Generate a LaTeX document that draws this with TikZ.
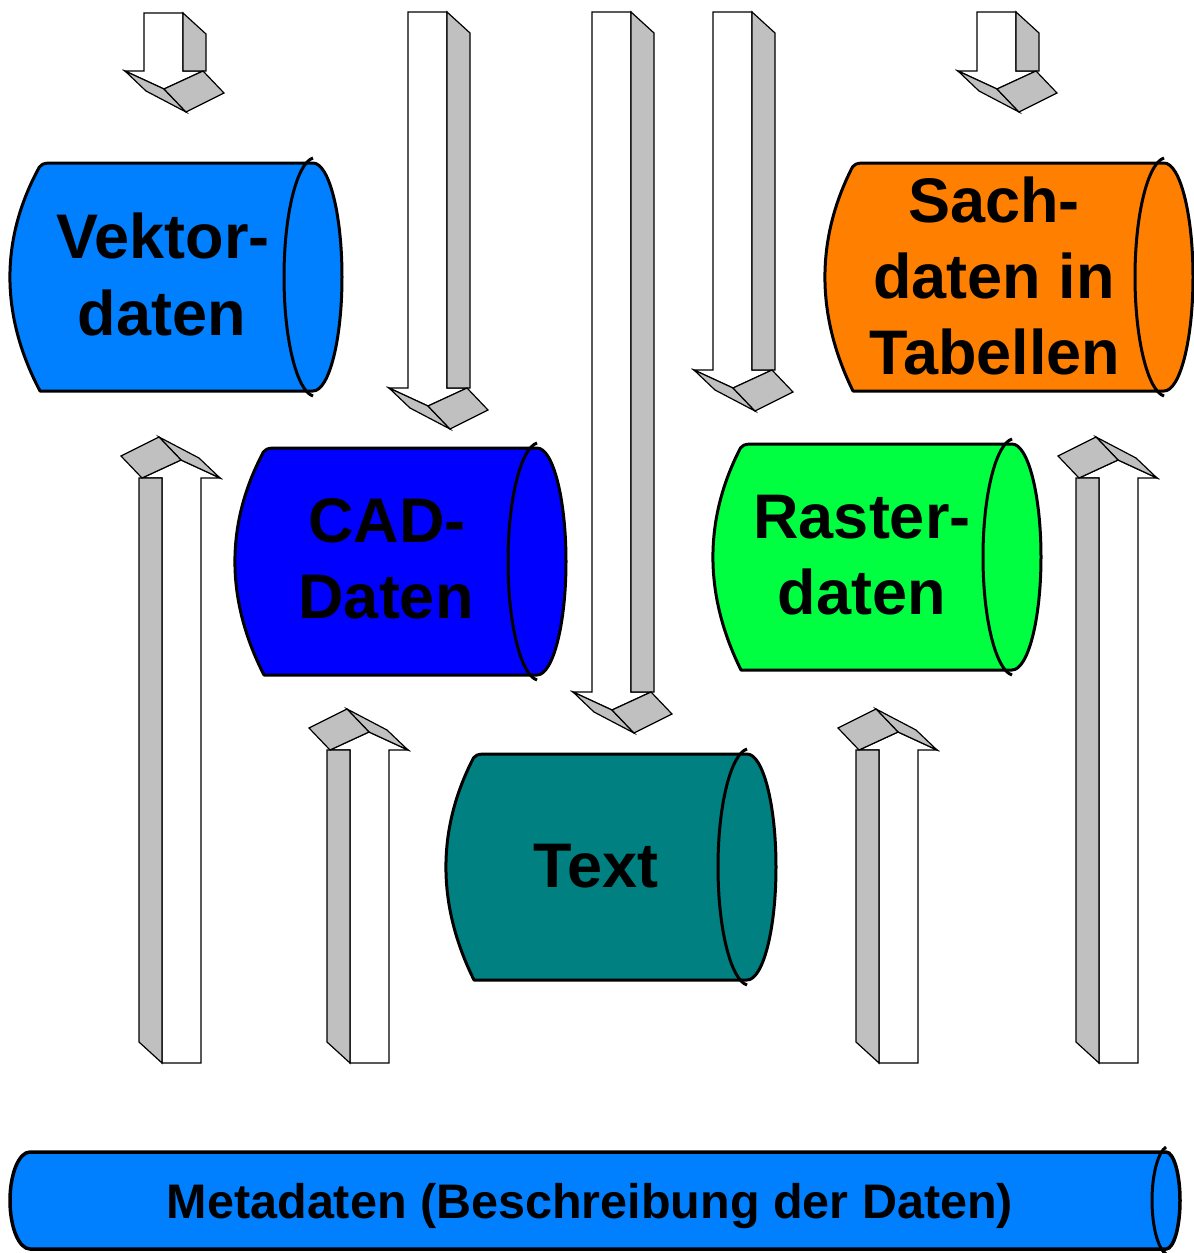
\documentclass[tikz,border=0pt]{standalone}
\usepackage{fontspec}
\setmainfont{Liberation Sans}
\definecolor{vekblue}{RGB}{0,128,255}
\definecolor{cadblue}{RGB}{0,0,255}
\definecolor{rastergreen}{RGB}{0,255,64}
\definecolor{sachorange}{RGB}{255,128,0}
\definecolor{textteal}{RGB}{0,128,128}
\definecolor{arrowgray}{RGB}{192,192,192}
\tikzset{
  arrowline/.style={draw=black, line width=1.2pt, line join=miter},
  arrowfront/.style={arrowline, fill=white},
  arrowface/.style={arrowline, fill=arrowgray},
  cylbody/.style={draw=black, line width=3pt, line join=round},
  cylinner/.style={draw=black, line width=3pt},
  lbl/.style={inner sep=0pt, font=\fontsize{63}{77}\selectfont\bfseries, anchor=base},
  metalbl/.style={inner sep=0pt, font=\fontsize{48.5}{58}\selectfont\bfseries, anchor=base},
}
% 3D block arrow: #1,#2 anchor; #3 shaft length; #4 rotation (0 = down, 180 = up)
\newcommand\threedarrow[4]{%
  \begin{scope}[shift={(#1,#2)}, rotate=#4]
    \draw[arrowfront] (0,-#3) -- (39,-#3) -- (39,0) -- (59,0) -- (20,18) -- (-19,0) -- (0,0) -- cycle;
    \draw[arrowface] (39,-#3) -- (62,-#3+21) -- (62,0) -- (39,0) -- cycle;
    \draw[arrowface] (-19,0) -- (20,18) -- (42,41) -- (2,20) -- cycle;
    \draw[arrowface] (20,18) -- (59,0) -- (80,22) -- (42,41) -- cycle;
  \end{scope}}
% inner half ellipse of the right end
\newcommand\cylrightinner[4]{% #1 xr #2 yt #3 yb #4 rx
  \draw[cylinner]
    (#1,#2-5) .. controls (#1-0.5523*#4,#2) and (#1-#4,\cym-0.5523*\cry) .. (#1-#4,\cym)
    .. controls (#1-#4,\cym+0.5523*\cry) and (#1-0.5523*#4,#3) .. (#1,#3+5);}
% cylinder with a parabolic left end: #1 xl, #2 xr, #3 yt, #4 yb, #5 left bulge, #6 right radius, #7 colour
\newcommand\cylinder[7]{%
  \pgfmathsetmacro\cym{(#3+#4)/2}
  \pgfmathsetmacro\cry{(#4-#3)/2}
  \draw[cylbody, fill=#7]
    (#2,#3) -- (#1+10,#3) .. controls (#1+3,#3) and (#1+1,#3+2) .. (#1-0.02*#5,#3+4)
    .. controls (#1-1.3333*#5,#3+0.6667*\cry) and (#1-1.3333*#5,#4-0.6667*\cry) .. (#1,#4)
    -- (#2,#4)
    .. controls (#2+0.5523*#6,#4) and (#2+#6,\cym+0.5523*\cry) .. (#2+#6,\cym)
    .. controls (#2+#6,\cym-0.5523*\cry) and (#2+0.5523*#6,#3) .. (#2,#3) -- cycle;
  \cylrightinner{#2}{#3}{#4}{#6}}
% cylinder with an elliptic left end (Metadaten)
\newcommand\cylindere[7]{%
  \pgfmathsetmacro\cym{(#3+#4)/2}
  \pgfmathsetmacro\cry{(#4-#3)/2}
  \draw[cylbody, line width=3.5pt, fill=#7]
    (#2,#3) -- (#1,#3)
    .. controls (#1-0.5523*#5,#3) and (#1-#5,\cym-0.5523*\cry) .. (#1-#5,\cym)
    .. controls (#1-#5,\cym+0.5523*\cry) and (#1-0.5523*#5,#4) .. (#1,#4)
    -- (#2,#4)
    .. controls (#2+0.5523*#6,#4) and (#2+#6,\cym+0.5523*\cry) .. (#2+#6,\cym)
    .. controls (#2+#6,\cym-0.5523*\cry) and (#2+0.5523*#6,#3) .. (#2,#3) -- cycle;
  \begin{scope}[line width=3.5pt]\cylrightinner{#2}{#3}{#4}{#6}\end{scope}}
\begin{document}
\begin{tikzpicture}[x=1pt,y=-1pt]
  \useasboundingbox (0,0) rectangle (1194,1253);
  % down arrows
  \threedarrow{144}{71}{58}{0}
  \threedarrow{408}{388}{376}{0}
  \threedarrow{592}{692}{680}{0}
  \threedarrow{713}{370}{358}{0}
  \threedarrow{977}{71}{59}{0}
  % up arrows
  \threedarrow{201}{478}{585}{180}
  \threedarrow{389}{750}{313}{180}
  \threedarrow{918}{750}{313}{180}
  \threedarrow{1138}{478}{585}{180}
  % cylinders
  \cylinder{40}{313}{163}{391}{30}{29}{vekblue}
  \cylinder{264}{537}{448}{675}{29}{29}{cadblue}
  \cylinder{741}{1012}{444}{670}{28}{29}{rastergreen}
  \cylinder{853}{1164}{163}{391}{28}{29}{sachorange}
  \cylinder{474}{747}{754}{980}{28}{29}{textteal}
  \cylindere{30}{1166}{1152}{1249}{20}{14}{vekblue}
  % labels
  \node[lbl] (vek1) at (163,258) {Vektor-};
  \node[lbl] (vek2) at (162,335) {daten};
  \node[lbl] (cad1) at (387,542) {CAD-};
  \node[lbl] (cad2) at (386,618) {Daten};
  \node[lbl] (ras1) at (862,538) {Raster-};
  \node[lbl] (ras2) at (862,614) {daten};
  \node[lbl] (sach1) at (994,222) {Sach-};
  \node[lbl] (sach2) at (994,298) {daten in};
  \node[lbl] (sach3) at (995,374) {Tabellen};
  \node[lbl] (txt) at (596,887) {Text};
  \node[metalbl] (meta) at (590,1218) {Metadaten (Beschreibung der Daten)};
\end{tikzpicture}
\end{document}
